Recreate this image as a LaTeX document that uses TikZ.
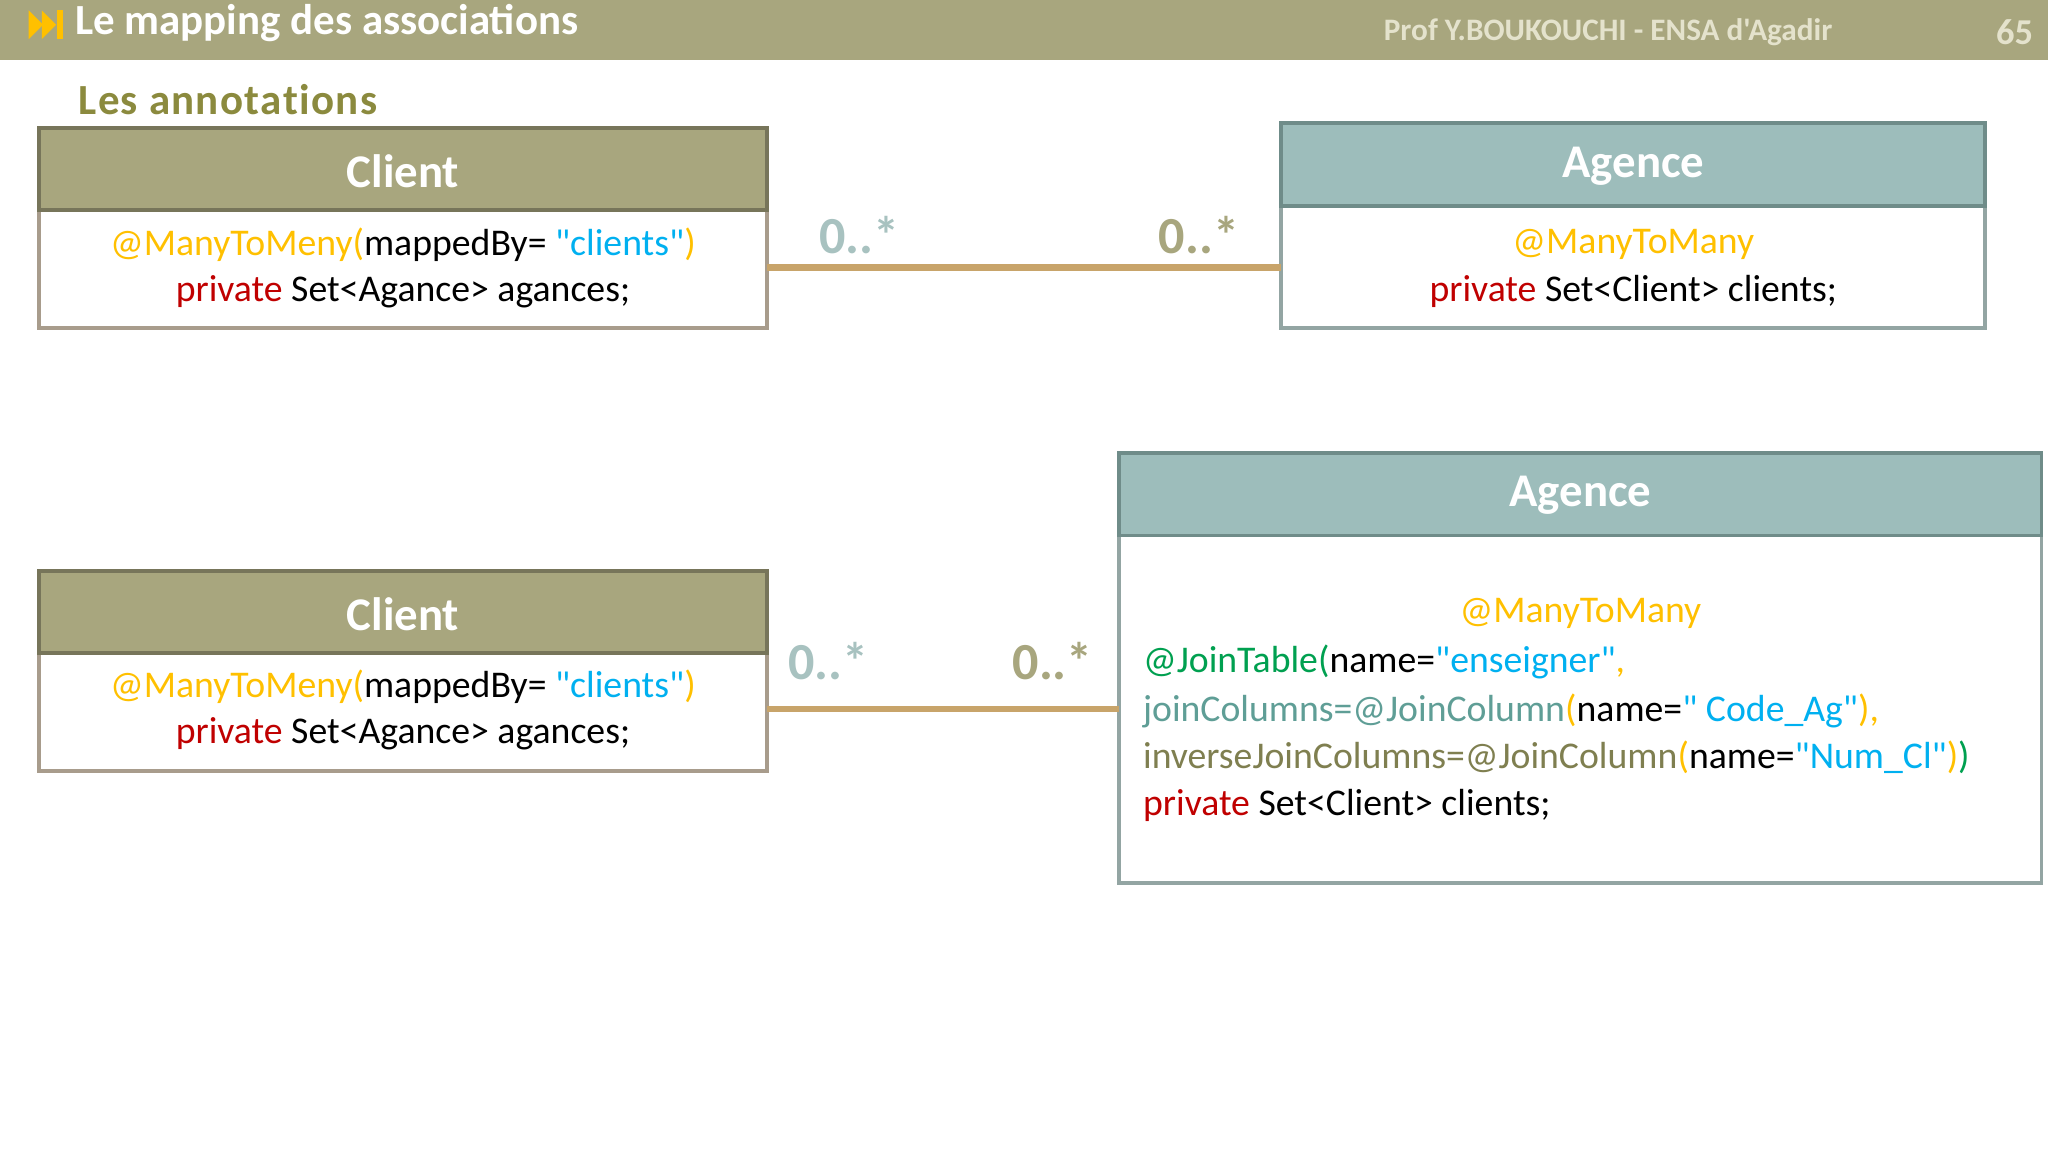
\documentclass[tikz,border=0pt]{standalone}
\usepackage{fontspec}
\setmainfont{Carlito}[Ligatures=TeXOff]
\definecolor{olivebar}{HTML}{A8A67E}
\definecolor{oliveborder}{HTML}{77755A}
\definecolor{tealhead}{HTML}{9DBDBB}
\definecolor{tealborder}{HTML}{6F8C89}
\definecolor{bodyborder}{HTML}{A89C8C}
\definecolor{tealbody}{HTML}{93A5A3}
\definecolor{linktan}{HTML}{C8A46A}
\definecolor{anno}{HTML}{FFC000}
\definecolor{strblue}{HTML}{00B0F0}
\definecolor{kwred}{HTML}{C00000}
\definecolor{jgreen}{HTML}{00A050}
\definecolor{jteal}{HTML}{5F9E96}
\definecolor{jolive}{HTML}{7F7F50}
\definecolor{subtitle}{HTML}{8B8A3E}
\definecolor{multteal}{HTML}{A8C2C0}
\definecolor{multolive}{HTML}{A8A67E}
\definecolor{headtext}{HTML}{E4E2CC}
\tikzset{
  headol/.style={fill=olivebar,draw=oliveborder,line width=3bp},
  headte/.style={fill=tealhead,draw=tealborder,line width=3bp},
  bodyc/.style={fill=white,draw=bodyborder,line width=3bp},
  bodya/.style={fill=white,draw=tealbody,line width=3bp},
  htxt/.style={text=white,font=\fontsize{36}{42}\selectfont\bfseries},
  ctxt/.style={font=\fontsize{29}{34}\selectfont},
  mult/.style={font=\fontsize{40}{46}\selectfont\bfseries},
  link/.style={draw=linktan,line width=5bp}
}
\begin{document}
\begin{tikzpicture}[x=1bp,y=-1bp]
\useasboundingbox (0,0) rectangle (1568,882);
\fill[olivebar] (0,0) rectangle (1568,46);
\fill[anno] (22,8) -- (33,19) -- (22,30) -- cycle;
\fill[anno] (32,8) -- (43,19) -- (32,30) -- cycle;
\fill[anno] (44,8) rectangle (48,30);
\node[anchor=west,text=white,font=\fontsize{33}{38}\selectfont\bfseries] (title) at (54,18) {Le mapping des associations};
\node[anchor=west,text=headtext,font=\fontsize{24}{28}\selectfont\bfseries] (prof) at (1056,25) {Prof Y.BOUKOUCHI - ENSA d'Agadir};
\node[anchor=east,text=headtext,font=\fontsize{28}{32}\selectfont\bfseries] (pg) at (1560,25) {65};
\node[anchor=west,text=subtitle,font=\fontsize{33}{38}\selectfont\bfseries,inner sep=0pt] (sub) at (60,76) {L\kern1pt e\kern1pt s\kern1pt\ a\kern1pt n\kern1pt n\kern1pt o\kern1pt t\kern1pt a\kern1pt t\kern1pt i\kern1pt o\kern1pt n\kern1pt s};
% Box 1 client
\draw[bodyc] (30,161) rectangle (587,251);
\draw[headol] (30,98) rectangle (587,161);
\node[htxt] (c1h) at (308.5,131) {Client};
\node[ctxt] (c1a) at (308.5,187) {\textcolor{anno}{@ManyToMeny(}mappedBy= \textcolor{strblue}{"clients"}\textcolor{anno}{)}};
\node[ctxt] (c1b) at (308.5,223) {\textcolor{kwred}{private} Set<Agance> agances;};
\coordinate (c1r) at (587,205);
% Box 1 agence
\draw[bodya] (981,158) rectangle (1520,251);
\draw[headte] (981,94) rectangle (1520,158);
\node[htxt] (a1h) at (1250.5,127) {Agence};
\node[ctxt] (a1a) at (1250.5,187) {\textcolor{anno}{@ManyToMany}};
\node[ctxt] (a1b) at (1250.5,223) {\textcolor{kwred}{private} Set<Client> clients;};
\coordinate (a1l) at (981,205);
\draw[link] (c1r) -- (a1l);
\node[mult,text=multteal] (m1) at (658,180) {0..*};
\node[mult,text=multolive] (m2) at (918,180) {0..*};
% Box 2 client
\draw[bodyc] (30,500) rectangle (587,590);
\draw[headol] (30,437) rectangle (587,500);
\node[htxt] (c2h) at (308.5,470) {Client};
\node[ctxt] (c2a) at (308.5,526) {\textcolor{anno}{@ManyToMeny(}mappedBy= \textcolor{strblue}{"clients"}\textcolor{anno}{)}};
\node[ctxt] (c2b) at (308.5,562) {\textcolor{kwred}{private} Set<Agance> agances;};
\coordinate (c2r) at (587,543);
% Box 2 agence
\draw[bodya] (857,410) rectangle (1563,676);
\draw[headte] (857,347) rectangle (1563,410);
\node[htxt] (a2h) at (1210,379) {Agence};
\node[ctxt] (a2a) at (1210,470) {\textcolor{anno}{@ManyToMany}};
\node[ctxt,anchor=west,inner sep=0pt] (a2b) at (875,507) {\textcolor{jgreen}{@JoinTable(}name=\textcolor{strblue}{"enseigner"}\textcolor{anno}{,}};
\node[ctxt,anchor=west,inner sep=0pt] (a2c) at (875,544) {\textcolor{jteal}{joinColumns=@JoinColumn}\textcolor{anno}{(}name=\textcolor{strblue}{" Code\_Ag"}\textcolor{anno}{),}};
\node[ctxt,anchor=west,inner sep=0pt] (a2d) at (875,580) {\textcolor{jolive}{inverseJoinColumns=@JoinColumn}\textcolor{anno}{(}name=\textcolor{strblue}{"Num\_Cl"}\textcolor{anno}{)}\textcolor{jgreen}{)}};
\node[ctxt,anchor=west,inner sep=0pt] (a2e) at (875,617) {\textcolor{kwred}{private} Set<Client> clients;};
\coordinate (a2l) at (857,543);
\draw[link] (c2r) -- (a2l);
\node[mult,text=multteal] (m3) at (634,506) {0..*};
\node[mult,text=multolive] (m4) at (806,506) {0..*};
\end{tikzpicture}
\end{document}
